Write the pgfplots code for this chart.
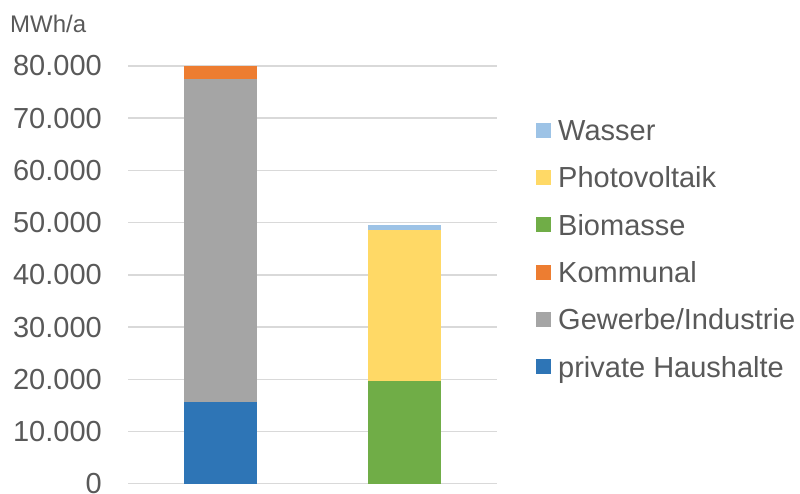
\documentclass[border=0pt]{standalone}
\usepackage{fontspec}
\setmainfont{Liberation Sans}
\usepackage{pgfplots}
\pgfplotsset{compat=1.18}

\definecolor{txt}{HTML}{595959}
\definecolor{gridc}{HTML}{D9D9D9}
\definecolor{cHaus}{HTML}{2E75B6}
\definecolor{cGew}{HTML}{A5A5A5}
\definecolor{cKom}{HTML}{ED7D31}
\definecolor{cBio}{HTML}{70AD47}
\definecolor{cPV}{HTML}{FFD966}
\definecolor{cWas}{HTML}{9DC3E6}

\begin{document}
\begin{tikzpicture}
\useasboundingbox (0,0) rectangle (800bp,494bp);
\begin{axis}[
  at={(128bp,10.3bp)}, anchor=south west,
  scale only axis,
  width=369bp, height=417.7bp,
  ybar stacked, bar width=73bp,
  xmin=-0.5, xmax=1.5,
  ymin=0, ymax=80000,
  clip=false,
  xtick=\empty,
  scaled y ticks=false,
  ytick={0,10000,20000,30000,40000,50000,60000,70000,80000},
  yticklabels={0,10.000,20.000,30.000,40.000,50.000,60.000,70.000,80.000},
  ymajorgrids,
  grid style={gridc, line width=1.5bp},
  axis line style={draw=none},
  major tick length=0pt,
  yticklabel style={anchor=east, inner sep=0pt, font=\fontsize{29bp}{34bp}\selectfont, text=txt},
  yticklabel shift=26bp,
  legend cell align=left,
  reverse legend,
  legend image code/.code={\fill[#1] (0bp,-4.5bp) rectangle (15bp,10.5bp);},
  legend style={
    at={(1.1057,0.872)}, anchor=north west,
    draw=none, fill=none, inner sep=0pt,
    column sep=7bp, row sep=20.3bp,
    nodes={inner sep=0pt, text height=21bp, text depth=6bp},
    font=\fontsize{29bp}{34bp}\selectfont, text=txt,
  },
]
\addplot[fill=cHaus, draw=none] coordinates {(0,15700) (1,0)};
\addplot[fill=cGew,  draw=none] coordinates {(0,61800) (1,0)};
\addplot[fill=cKom,  draw=none] coordinates {(0,2450)  (1,0)};
\addplot[fill=cBio,  draw=none] coordinates {(0,0) (1,19700)};
\addplot[fill=cPV,   draw=none] coordinates {(0,0) (1,28900)};
\addplot[fill=cWas,  draw=none] coordinates {(0,0) (1,950)};
\legend{private Haushalte,Gewerbe/Industrie,Kommunal,Biomasse,Photovoltaik,Wasser}
\end{axis}
\node[anchor=base west, inner sep=0pt, text=txt, font=\fontsize{24bp}{28bp}\selectfont] at (10bp,461bp) {MWh/a};
\end{tikzpicture}
\end{document}
